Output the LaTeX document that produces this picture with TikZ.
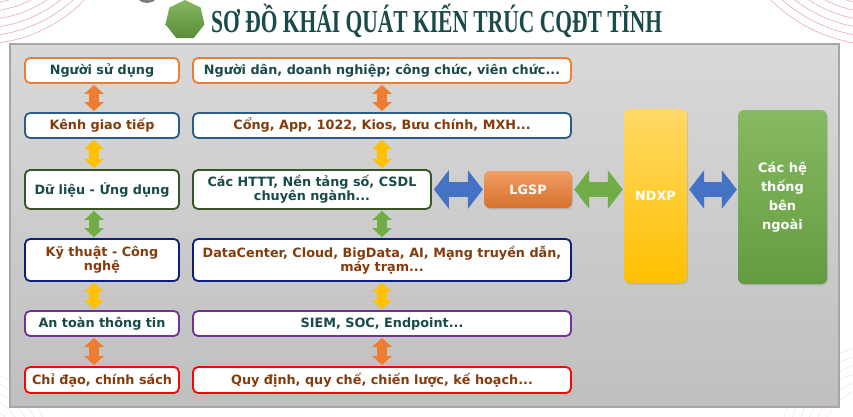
\documentclass[tikz,border=0pt]{standalone}
\usepackage{fontspec}
\setmainfont{DejaVu Sans}
\newfontfamily\titlefont{Liberation Serif}
\usetikzlibrary{arrows.meta, shapes.geometric, shadows}

\definecolor{teal}{HTML}{1A4A4A}
\definecolor{brownt}{HTML}{843C0C}
\definecolor{borange}{HTML}{ED7D31}
\definecolor{bblue}{HTML}{2E5C8A}
\definecolor{bgreen}{HTML}{375623}
\definecolor{bnavy}{HTML}{0A1F80}
\definecolor{bpurple}{HTML}{7030A0}
\definecolor{bred}{HTML}{FF0000}
\definecolor{ablue}{HTML}{4472C4}
\definecolor{agreen}{HTML}{70AD47}
\definecolor{ayellow}{HTML}{FFC000}
\definecolor{deco}{HTML}{E7A6CF}

\begin{document}
\begin{tikzpicture}[x=1pt, y=-1pt, font=\bfseries\fontsize{12.8}{14.5}\selectfont,
	every node/.style={align=center, inner sep=1pt},
	lop/.style={draw, line width=1.8pt, fill=white, rounded corners=5pt, minimum width=154, minimum height=25},
	khoi/.style={rounded corners=6pt, text=white, drop shadow={shadow xshift=1pt, shadow yshift=-1.5pt, opacity=0.25}},
	doc/.style={line width=10pt, {Triangle[width=19pt, length=9pt]}-{Triangle[width=19pt, length=9pt]}, shorten <=1pt, shorten >=1pt},
	ngang/.style={line width=15pt, {Triangle[width=38pt, length=15pt]}-{Triangle[width=38pt, length=15pt]}, shorten <=2pt, shorten >=1pt}]

	\useasboundingbox (0,0) rectangle (853,416);

	% Hoa văn ở các góc
	\begin{scope}
		\clip (0,0) rectangle (853,416);
		\foreach \r in {106,114,...,146} \draw[deco, line width=0.6pt] (-20,-102) circle (\r);
		\foreach \r in {115,123,...,155} \draw[deco, line width=0.6pt] (880,-110) circle (\r);
		\foreach \r in {40,48,...,80} \draw[gray!20, line width=0.5pt] (-30,450) circle (\r);
		\foreach \r in {60,68,...,100} \draw[deco!40, line width=0.5pt] (880,445) circle (\r);
		\shade[inner color=gray!60, outer color=gray!90!black] (147,-10) circle (13);
	\end{scope}

	% Tiêu đề
	\node[regular polygon, regular polygon sides=7, minimum size=40, inner sep=0pt, top color=agreen!85!white, bottom color=agreen!80!black] (logo) at (185,20) {};
	\node[anchor=west, text=teal, font=\titlefont\bfseries\fontsize{32}{34}\selectfont] (tieude) at (210,21) {\scalebox{0.672}[1]{SƠ ĐỒ KHÁI QUÁT KIẾN TRÚC CQĐT TỈNH}};

	% Nền xám
	\shade[top color=gray!30, bottom color=gray!50, draw=gray!70, line width=1.2pt] (10,44) rectangle (839,407);

	% Cột trái
	\node[lop, draw=borange, text=teal] (L1) at (102,70.5) {Người sử dụng};
	\node[lop, draw=bblue, text=brownt] (L2) at (102,125.5) {Kênh giao tiếp};
	\node[lop, draw=bgreen, text=teal, minimum height=39] (L3) at (102,189.5) {Dữ liệu - Ứng dụng};
	\node[lop, draw=bnavy, text=brownt, minimum height=42] (L4) at (102,260) {Kỹ thuật - Công\\nghệ};
	\node[lop, draw=bpurple, text=teal] (L5) at (102,323.5) {An toàn thông tin};
	\node[lop, draw=bred, text=brownt, minimum height=26] (L6) at (102,380) {Chỉ đạo, chính sách};

	% Cột phải
	\node[lop, draw=borange, text=teal, minimum width=378] (R1) at (382,70.5) {Người dân, doanh nghiệp; công chức, viên chức...};
	\node[lop, draw=bblue, text=brownt, minimum width=378] (R2) at (382,125.5) {Cổng, App, 1022, Kios, Bưu chính, MXH...};
	\node[lop, draw=bgreen, text=teal, minimum width=238, minimum height=39] (R3) at (312,189.5) {Các HTTT, Nền tảng số, CSDL\\chuyên ngành...};
	\node[lop, draw=bnavy, text=brownt, minimum width=378, minimum height=42] (R4) at (382,260) {DataCenter, Cloud, BigData, AI, Mạng truyền dẫn,\\máy trạm...};
	\node[lop, draw=bpurple, text=teal, minimum width=378] (R5) at (382,323.5) {SIEM, SOC, Endpoint...};
	\node[lop, draw=bred, text=brownt, minimum width=378, minimum height=26] (R6) at (382,380) {Quy định, quy chế, chiến lược, kế hoạch...};

	% Các khối kết nối
	\node[khoi, minimum width=88, minimum height=37, top color=borange!75!white, bottom color=borange!90!black] (lgsp) at (528,189.5) {LGSP};
	\node[khoi, minimum width=63, minimum height=174, top color=ayellow!60!white, bottom color=ayellow] (ndxp) at (655.5,196) {NDXP};
	\node[khoi, minimum width=89, minimum height=174, font=\bfseries\fontsize{13}{19}\selectfont, top color=agreen!85!white, bottom color=agreen!90!black] (ngoai) at (782.5,197) {Các hệ\\thống\\bên\\ngoài};

	% Mũi tên dọc
	\draw[doc, borange] ([xshift=-8]L1.south) -- ([xshift=-8]L2.north);
	\draw[doc, ayellow] ([xshift=-8]L2.south) -- ([xshift=-8]L3.north);
	\draw[doc, agreen] ([xshift=-8]L3.south) -- ([xshift=-8]L4.north);
	\draw[doc, ayellow] ([xshift=-8]L4.south) -- ([xshift=-8]L5.north);
	\draw[doc, borange] ([xshift=-8]L5.south) -- ([xshift=-8]L6.north);
	\draw[doc, borange] (R1.south) -- (R2.north);
	\draw[doc, ayellow] (R2.south) -- (R3.north -| R2.south);
	\draw[doc, agreen] (R3.south -| R2.south) -- (R4.north);
	\draw[doc, ayellow] (R4.south) -- (R5.north);
	\draw[doc, borange] (R5.south) -- (R6.north);

	% Mũi tên ngang
	\draw[ngang, ablue] (R3.east) -- (lgsp.west);
	\draw[ngang, agreen] (lgsp.east) -- (lgsp.east -| ndxp.west);
	\draw[ngang, ablue] (lgsp.east -| ndxp.east) -- (lgsp.east -| ngoai.west);
\end{tikzpicture}
\end{document}
